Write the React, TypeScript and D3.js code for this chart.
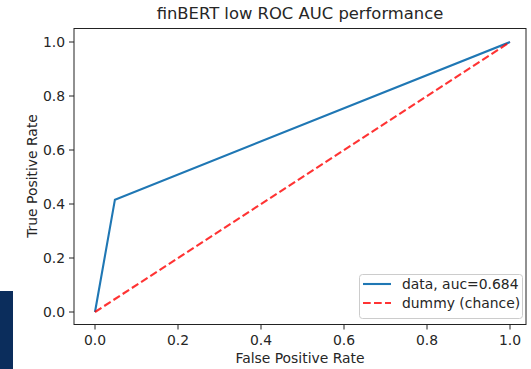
import React from "react";
import * as d3 from "d3";

const title = "finBERT low ROC AUC performance";
const xLabel = "False Positive Rate";
const yLabel = "True Positive Rate";
const fpr = [0, 0.048, 1];
const tpr = [0, 0.416, 1];
const chanceX = [0, 1];
const chanceY = [0, 1];
const ticks = [0, 0.2, 0.4, 0.6, 0.8, 1.0];
const legendLabels = ["data, auc=0.684", "dummy (chance)"];

const W = 531;
const H = 369;
const FONT = "'DejaVu Sans', sans-serif";

export default function App() {
  const x = d3.scaleLinear().domain([0, 1]).range([95, 510]);
  const y = d3.scaleLinear().domain([0, 1]).range([312, 42]);
  const left = 74, right = 526, top = 28.5, bottom = 324.5;

  const line = d3
    .line<[number, number]>()
    .x((d) => x(d[0]))
    .y((d) => y(d[1]));
  const roc = fpr.map((v, i) => [v, tpr[i]] as [number, number]);
  const chance = chanceX.map((v, i) => [v, chanceY[i]] as [number, number]);

  const textColor = "#262626";

  return (
    <svg
      width={W}
      height={H}
      style={{ position: "absolute", left: 0, top: 0, background: "#fff" }}
      fontFamily={FONT}
    >
      <rect x={0} y={0} width={W} height={H} fill="#fff" />
      <rect x={0} y={291} width={13} height={H - 291} fill="#0b2d5c" />
      <text x={300} y={19} textAnchor="middle" fontSize={16.4} fill={textColor}>
        {title}
      </text>
      {/* lines */}
      <path d={line(roc) || ""} fill="none" stroke="#1f77b4" strokeWidth={2.1} />
      <path
        d={line(chance) || ""}
        fill="none"
        stroke="red"
        strokeOpacity={0.8}
        strokeWidth={2.1}
        strokeDasharray="7.7,3.3"
      />
      {/* spines */}
      <rect
        x={left}
        y={top}
        width={right - left}
        height={bottom - top}
        fill="none"
        stroke="#222"
        strokeWidth={1}
      />
      {/* x ticks */}
      {ticks.map((t) => (
        <g key={"x" + t}>
          <line x1={x(t)} x2={x(t)} y1={bottom} y2={bottom + 5} stroke="#222" />
          <text x={x(t)} y={345} textAnchor="middle" fontSize={13.9} fill={textColor}>
            {t.toFixed(1)}
          </text>
        </g>
      ))}
      {/* y ticks */}
      {ticks.map((t) => (
        <g key={"y" + t}>
          <line x1={left - 5} x2={left} y1={y(t)} y2={y(t)} stroke="#222" />
          <text
            x={left - 9}
            y={y(t)}
            dy="0.36em"
            textAnchor="end"
            fontSize={13.9}
            fill={textColor}
          >
            {t.toFixed(1)}
          </text>
        </g>
      ))}
      <text x={300} y={363} textAnchor="middle" fontSize={13.9} fill={textColor}>
        {xLabel}
      </text>
      <text
        transform={`translate(37,176) rotate(-90)`}
        textAnchor="middle"
        fontSize={13.9}
        fill={textColor}
      >
        {yLabel}
      </text>
      {/* legend */}
      <rect
        x={359.5}
        y={274.5}
        width={163}
        height={44}
        rx={3}
        fill="#fff"
        fillOpacity={0.8}
        stroke="#ccc"
        strokeWidth={1}
      />
      <line x1={363} x2={391} y1={284} y2={284} stroke="#1f77b4" strokeWidth={2.1} />
      <line
        x1={363}
        x2={391}
        y1={303}
        y2={303}
        stroke="red"
        strokeOpacity={0.8}
        strokeWidth={2.1}
        strokeDasharray="7.7,3.3"
      />
      <text x={402} y={284} dy="0.36em" fontSize={13.9} fill={textColor}>
        {legendLabels[0]}
      </text>
      <text x={402} y={303} dy="0.36em" fontSize={13.9} fill={textColor}>
        {legendLabels[1]}
      </text>
    </svg>
  );
}
